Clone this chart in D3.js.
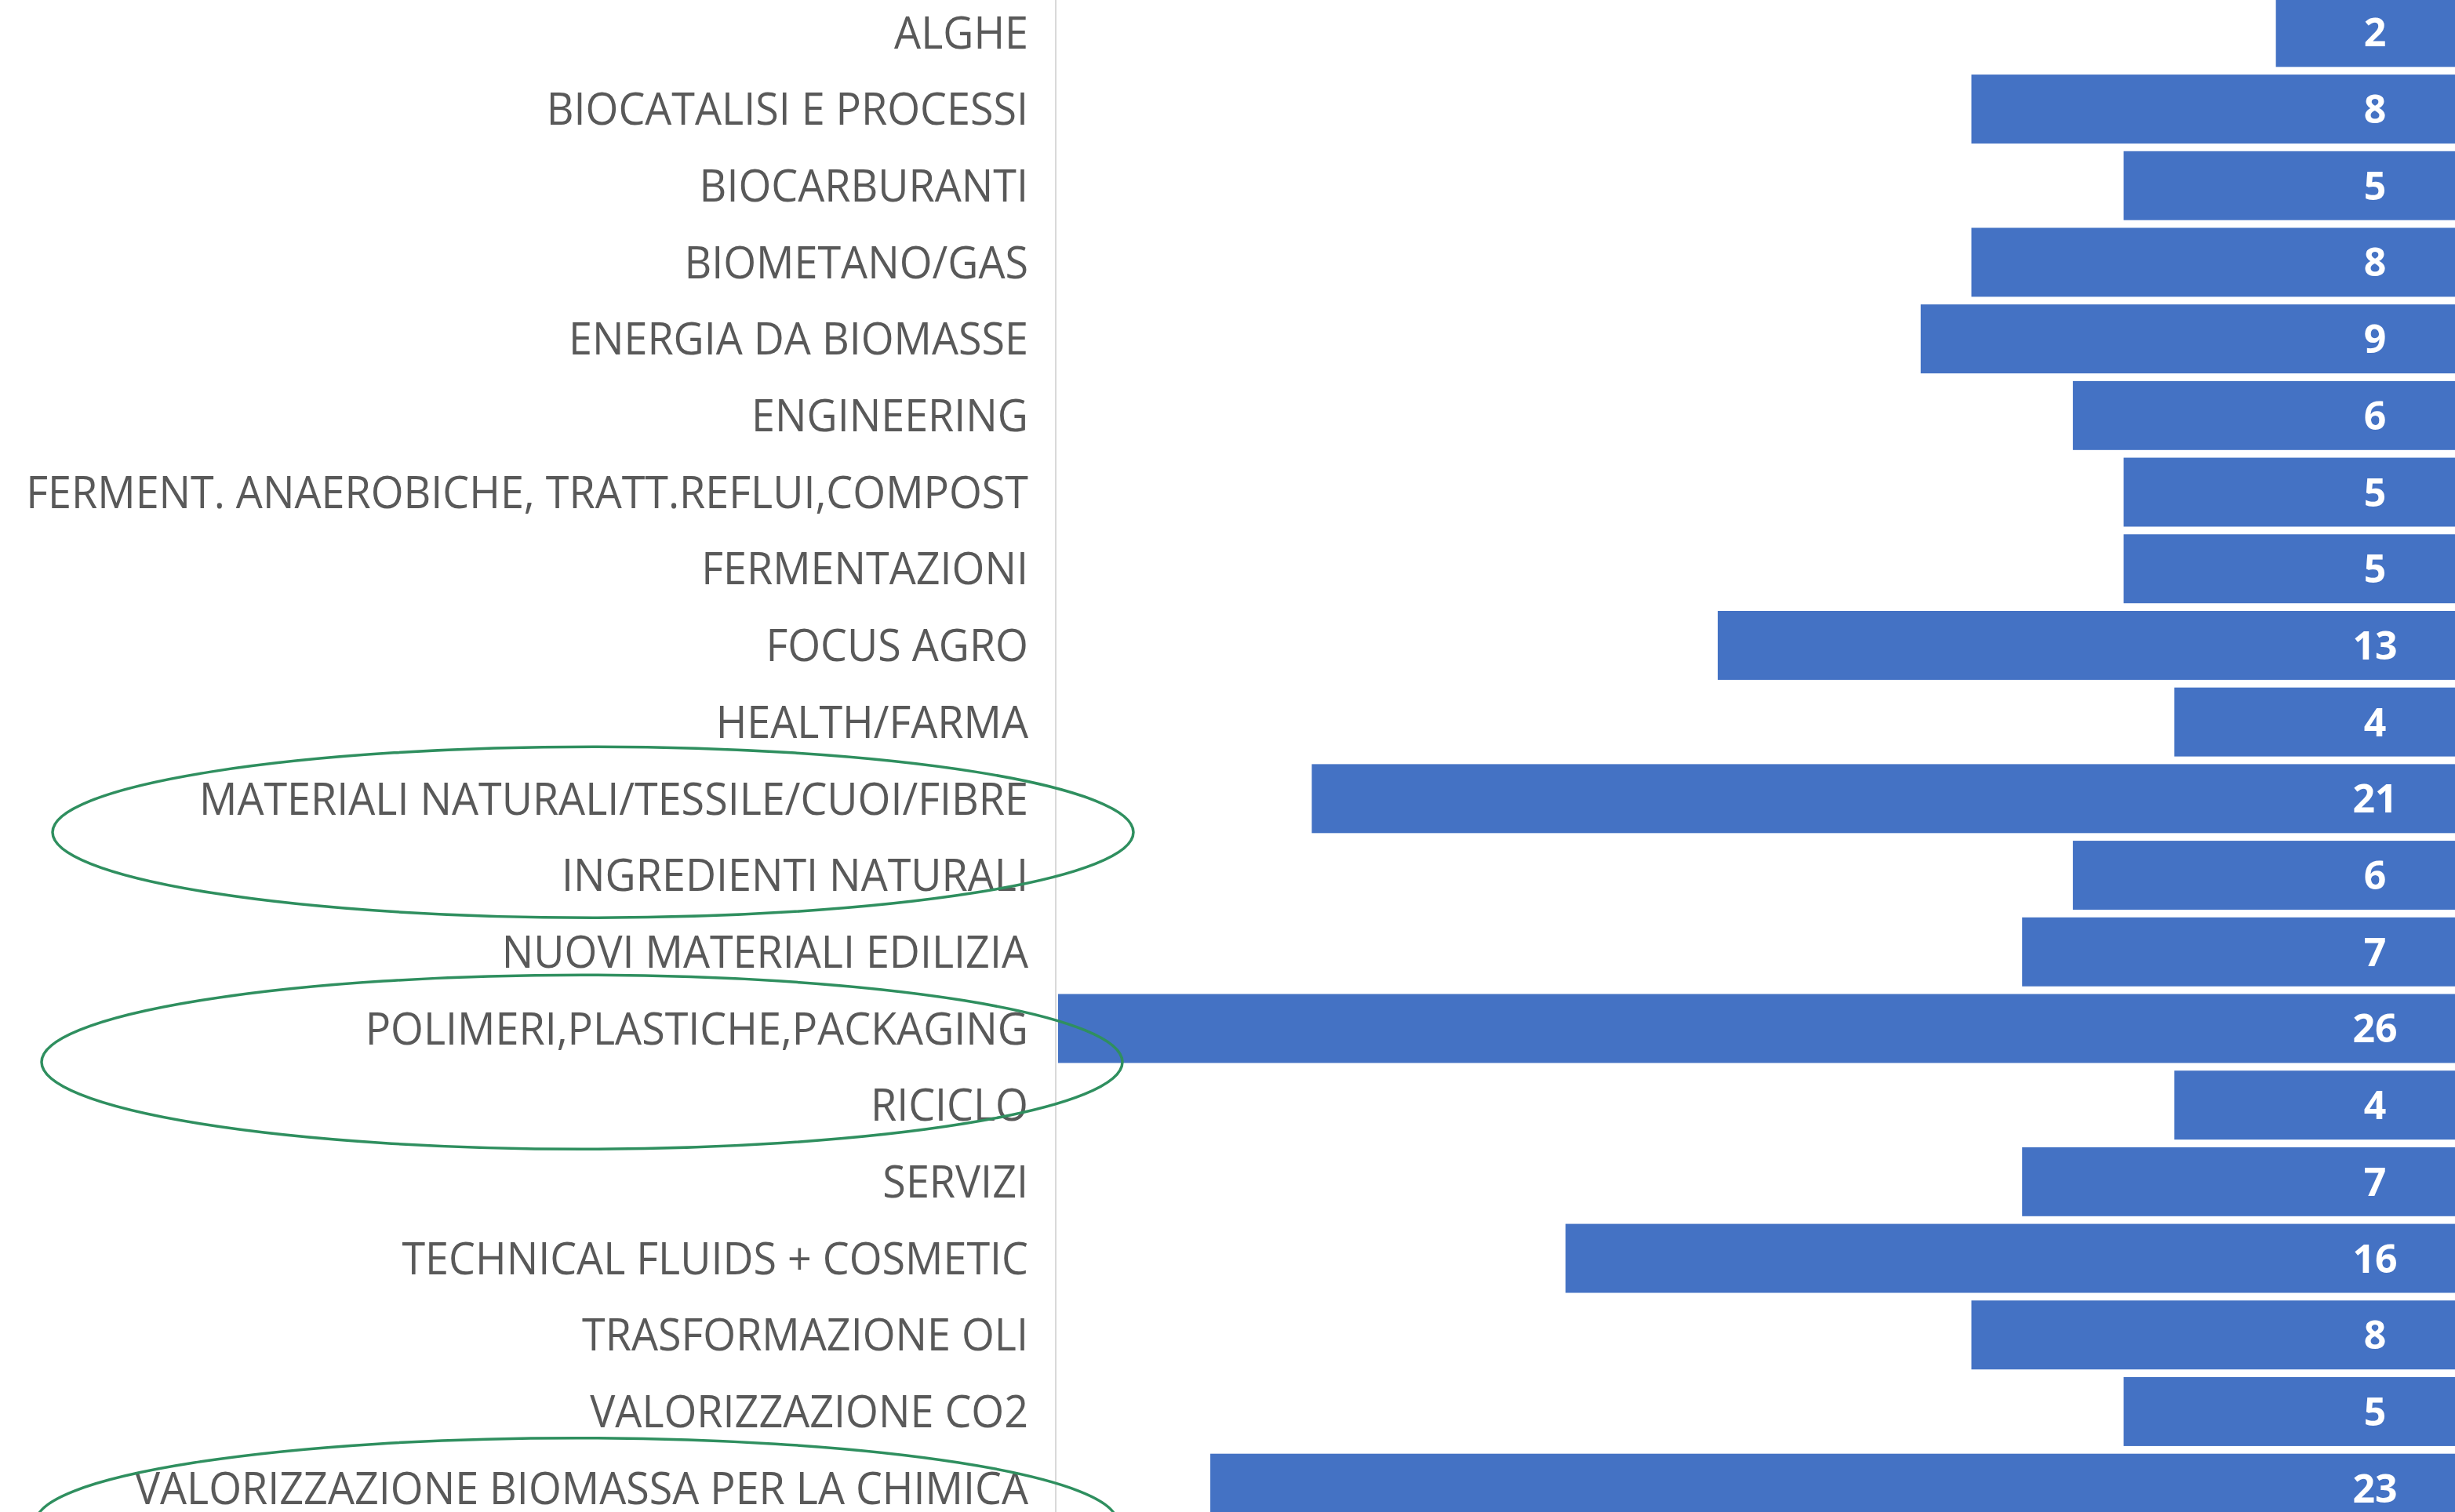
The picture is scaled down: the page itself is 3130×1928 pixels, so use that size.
<!DOCTYPE html>
<html>
<head>
<meta charset="utf-8">
<script src="https://cdn.jsdelivr.net/npm/d3@7"></script>
<style>
  body { margin: 0; background: #fff; }
  svg { display: block; }
  .catLabel { fill: #595959; font-family: 'Open Sans', sans-serif; font-size: 56px; }
  .valueText { fill: #fff; font-family: 'Open Sans', sans-serif; font-weight: 700; font-size: 50px; }
</style>
</head>
<body>
<svg id="chart"></svg>
<script>
// categories, top to bottom
const categories = [
  'ALGHE',
  'BIOCATALISI E PROCESSI',
  'BIOCARBURANTI',
  'BIOMETANO/GAS',
  'ENERGIA DA BIOMASSE',
  'ENGINEERING',
  'FERMENT. ANAEROBICHE, TRATT.REFLUI,COMPOST',
  'FERMENTAZIONI',
  'FOCUS AGRO',
  'HEALTH/FARMA',
  'MATERIALI NATURALI/TESSILE/CUOI/FIBRE',
  'INGREDIENTI NATURALI',
  'NUOVI MATERIALI EDILIZIA',
  'POLIMERI,PLASTICHE,PACKAGING',
  'RICICLO',
  'SERVIZI',
  'TECHNICAL FLUIDS + COSMETIC',
  'TRASFORMAZIONE OLI',
  'VALORIZZAZIONE CO2',
  'VALORIZZAZIONE BIOMASSA PER LA CHIMICA'
];
const counts = [2, 8, 5, 8, 9, 6, 5, 5, 13, 4, 21, 6, 7, 26, 4, 7, 16, 8, 5, 23];

// green hand-drawn circles: first and last category each one surrounds
const highlights = [
  ['MATERIALI NATURALI/TESSILE/CUOI/FIBRE', 'INGREDIENTI NATURALI'],
  ['POLIMERI,PLASTICHE,PACKAGING', 'RICICLO'],
  ['VALORIZZAZIONE BIOMASSA PER LA CHIMICA', null]
];

const width = 3130, height = 1928;
const axisX = 1346;

const svg = d3.select('#chart')
    .attr('width', width)
    .attr('height', height);

// reversed axis, bars grow leftwards from the (cropped) right side
const xScale = d3.scaleLinear()
    .domain([0, d3.max(counts)])
    .range([3031, 1349]);

const yScale = d3.scaleBand()
    .domain(categories)
    .range([-7.5, 1946.5])
    .paddingInner(0.1)
    .paddingOuter(0.05);

const data = categories.map((c, i) => ({ name: c, value: counts[i] }));

// bars
svg.selectAll('rect.bar')
    .data(data)
    .enter()
    .append('rect')
    .attr('class', 'bar')
    .attr('x', d => xScale(d.value))
    .attr('y', d => yScale(d.name))
    .attr('width', d => width - xScale(d.value))
    .attr('height', yScale.bandwidth())
    .attr('fill', '#4472c4');

// value labels
svg.selectAll('text.valueText')
    .data(data)
    .enter()
    .append('text')
    .attr('class', 'valueText')
    .attr('x', xScale(0) - 3)
    .attr('y', d => yScale(d.name) + yScale.bandwidth() / 2)
    .attr('dy', '0.36em')
    .attr('text-anchor', 'middle')
    .text(d => d.value);

// vertical axis line
svg.append('line')
    .attr('x1', axisX).attr('x2', axisX)
    .attr('y1', 0).attr('y2', height)
    .attr('stroke', '#d9d9d9')
    .attr('stroke-width', 2);

// category labels
const labelRight = 1311;
const labels = svg.selectAll('text.catLabel')
    .data(categories)
    .enter()
    .append('text')
    .attr('class', 'catLabel')
    .attr('x', 0)
    .attr('y', 0)
    .attr('text-anchor', 'end')
    .attr('dy', '0.36em')
    .text(d => d);

// the source font is narrow, squeeze labels so the longest one fits
let widest = 0;
labels.each(function () { widest = Math.max(widest, this.getComputedTextLength()); });
const k = Math.min(1, 1278 / widest);
labels.attr('transform', d =>
    'translate(' + labelRight + ',' + (yScale(d) + yScale.bandwidth() / 2) + ') scale(' + k + ',1)');

// green ellipses
const center = c => yScale(c) + yScale.bandwidth() / 2;
svg.selectAll('ellipse')
    .data(highlights)
    .enter()
    .append('ellipse')
    .attr('cx', (d, i) => [756, 742, 735][i])
    .attr('cy', d => d[1] ? (center(d[0]) + center(d[1])) / 2 - 6 : center(d[0]) + 43)
    .attr('rx', 689)
    .attr('ry', (d, i) => [109, 111, 107][i])
    .attr('fill', 'none')
    .attr('stroke', '#2f8f5f')
    .attr('stroke-width', 3.5);
</script>
</body>
</html>
